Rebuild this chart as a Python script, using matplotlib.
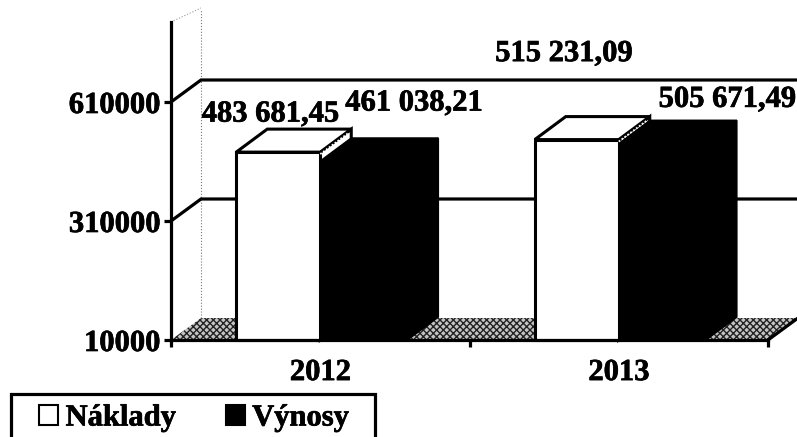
import matplotlib
matplotlib.use('Agg')
import matplotlib.pyplot as plt
import matplotlib.patheffects as pe
from matplotlib.patches import Patch, Polygon, Rectangle

plt.rcParams['font.family'] = ['Liberation Serif', 'DejaVu Serif']
plt.rcParams['font.weight'] = 'bold'
plt.rcParams['font.size'] = 22
plt.rcParams['hatch.linewidth'] = 1.0

# data
years = ['2012', '2013']
naklady = [483681.45, 515231.09]
vynosy = [461038.21, 505671.49]
series_names = ['Náklady', 'Výnosy']
y_ticks = [10000, 310000, 610000]

W, H = 797, 437
AX_L, AX_R, AX_T, AX_B = 171, 768, 22, 340
Y_MIN = 10000
Y_MAX = 10000 + (AX_B - AX_T) * 300000 / 119
LW = 2.3
# scanned text looks a bit heavier than the plain bold font
HEAVY = [pe.withStroke(linewidth=0.5, foreground='black')]

# pixel -> data helpers for the fake 3d depth
def dx_px(p):
    return p * 2 / (AX_R - AX_L)


def dy_px(p):
    return p * (Y_MAX - Y_MIN) / (AX_B - AX_T)


def label_text(v):
    return f'{v:,.2f}'.replace(',', ' ').replace('.', ',')


def bar3d(ax, x, w, v, face, edge_w, z):
    dx, dy = dx_px(31), dy_px(23)
    front = [(x, Y_MIN), (x + w, Y_MIN), (x + w, v), (x, v)]
    top = [(x, v), (x + w, v), (x + w + dx, v + dy), (x + dx, v + dy)]
    side = [(x + w, Y_MIN), (x + w + dx, Y_MIN + dy), (x + w + dx, v + dy), (x + w, v)]
    for pts in (side, front, top):
        ax.add_patch(Polygon(pts, closed=True, facecolor=face, edgecolor='black',
                             linewidth=edge_w, zorder=z, clip_on=False, joinstyle='miter'))


fig = plt.figure(figsize=(W / 100, H / 100), dpi=100)
ax = fig.add_axes([AX_L / W, 1 - AX_B / H, (AX_R - AX_L) / W, (AX_B - AX_T) / H])
ax.set_xlim(0, 2)
ax.set_ylim(Y_MIN, Y_MAX)
ax.patch.set_alpha(0)

wall_dx, wall_dy = dx_px(30), dy_px(22)

# floor
ax.add_patch(Polygon([(0, Y_MIN), (2, Y_MIN), (2 + wall_dx, Y_MIN + wall_dy), (wall_dx, Y_MIN + wall_dy)],
                     closed=True, facecolor='#c4c4c4', edgecolor='#222222', hatch='xxxxx',
                     linewidth=0, zorder=1, clip_on=False))
ax.plot([2, 2 + wall_dx], [Y_MIN, Y_MIN + wall_dy], color='black', lw=LW, zorder=2, clip_on=False)

# back wall, barely visible in the scan
ax.plot([wall_dx, wall_dx], [Y_MIN + wall_dy, Y_MAX + dy_px(12)], color='#777777', lw=0.8, ls=':',
        zorder=1, clip_on=False)
ax.plot([0, wall_dx], [Y_MAX, Y_MAX + dy_px(14)], color='#999999', lw=0.8, ls=':', zorder=1, clip_on=False)

# gridlines with the diagonal going to the back wall
for v in y_ticks[1:]:
    ax.plot([0, wall_dx, 2.2], [v, v + wall_dy, v + wall_dy], color='black', lw=LW,
            zorder=2, clip_on=False, solid_joinstyle='miter')

white_w = dx_px(84)
black_w = dx_px(87)
label_off_x = [[-8, 50], [-13, 65]]
label_off_y = [[38, 58], [86, 44]]
for i, year in enumerate(years):
    c = i + 0.5
    bar3d(ax, c - white_w, white_w, naklady[i], 'white', 2.2, 3)
    bar3d(ax, c, black_w, vynosy[i], 'black', 1.2, 4)
    # white speckled edge where the white bar's side meets the black one
    ax.plot([c, c + dx_px(28)], [naklady[i] - dy_px(2), naklady[i] + dy_px(19)], color='white', lw=1.3,
            ls=(0, (1, 1)), zorder=5, clip_on=False)
    for j, (v, x0) in enumerate(((naklady[i], c - white_w / 2), (vynosy[i], c + black_w / 2))):
        ax.annotate(label_text(v), (x0, v), xytext=(label_off_x[i][j] * 0.72, label_off_y[i][j] * 0.72),
                    textcoords='offset points', ha='center', va='center', zorder=6, annotation_clip=False,
                    path_effects=HEAVY)

ax.spines['top'].set_visible(False)
ax.spines['right'].set_visible(False)
ax.spines['left'].set_linewidth(LW)
ax.spines['bottom'].set_linewidth(LW)
ax.spines['left'].set_zorder(5)
ax.spines['bottom'].set_zorder(5)

ax.set_yticks(y_ticks)
ax.set_yticklabels([str(v) for v in y_ticks], path_effects=HEAVY)
ax.tick_params(axis='y', length=5, width=LW, pad=3)
ax.set_xticks([0, 1, 2])
ax.set_xticklabels([])
ax.tick_params(axis='x', which='major', length=5, width=LW)
ax.set_xticks([0.5, 1.5], minor=True)
ax.set_xticklabels(years, minor=True, path_effects=HEAVY)
ax.tick_params(axis='x', which='minor', length=0, pad=13)

# legend box runs off the bottom of the picture
fig.add_artist(Rectangle((11 / W, -0.05), 364 / W, 0.05 + 1 - 394 / H, transform=fig.transFigure,
                         facecolor='white', edgecolor='black', linewidth=LW))
handles = [Patch(facecolor='white', edgecolor='black', linewidth=1.5, label=series_names[0]),
           Patch(facecolor='black', edgecolor='black', linewidth=1.5, label=series_names[1])]
leg = fig.legend(handles=handles, loc='center left', bbox_to_anchor=(39 / W, 1 - 418 / H), ncol=2, frameon=False,
                 handlelength=0.62, handleheight=0.62, handletextpad=0.25, columnspacing=1.62,
                 borderpad=0, borderaxespad=0)
for t in leg.get_texts():
    t.set_path_effects(HEAVY)

fig.savefig('out.png', dpi=100)
